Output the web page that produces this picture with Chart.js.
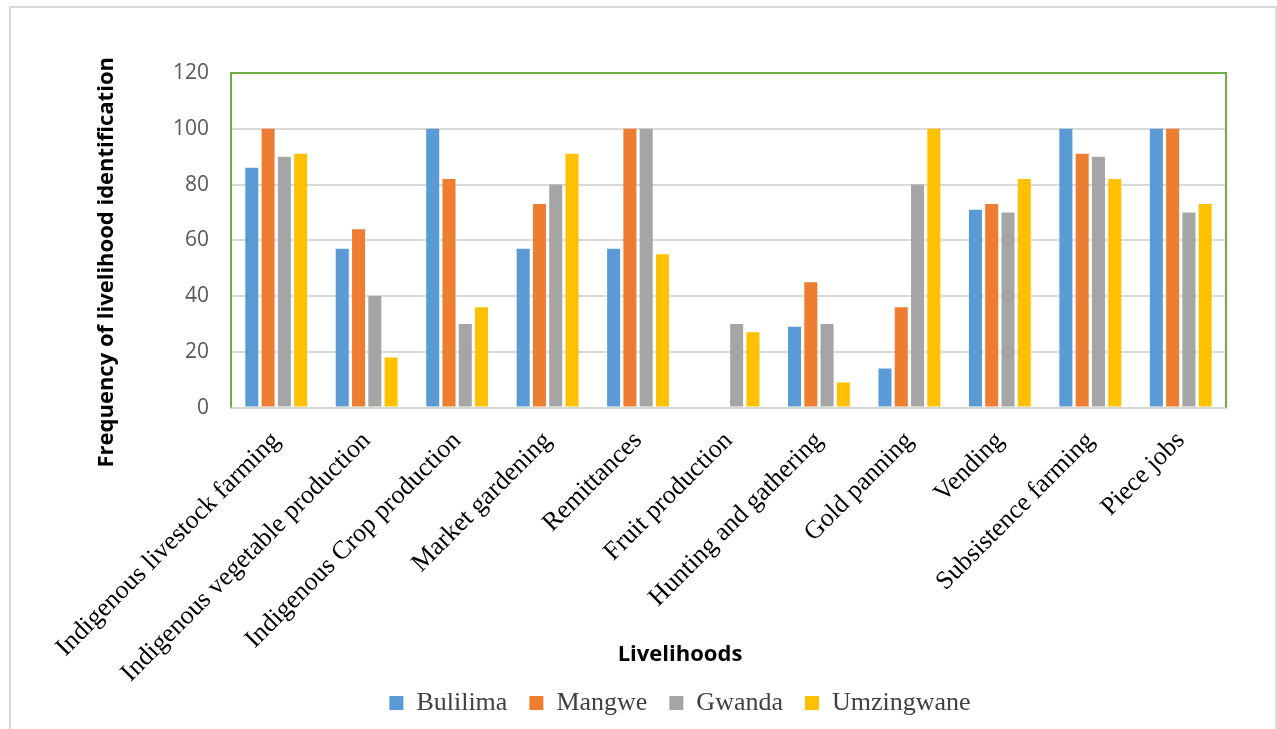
<!DOCTYPE html>
<html>
<head>
<meta charset="utf-8">
<script src="https://cdn.jsdelivr.net/npm/chart.js@4"></script>
<style>
  html, body { margin: 0; padding: 0; background: #fff; overflow: hidden; width: 1277px; height: 729px; }
  #frame { position: absolute; left: 9px; top: 6px; width: 1264px; height: 800px; border: 2px solid #d9d9d9; }
  #wrap { position: absolute; left: 20px; top: 0; width: 1257px; height: 740px; }
</style>
</head>
<body>
<div id="frame"></div>
<div id="wrap"><canvas id="chart"></canvas></div>
<script>
const livelihoods = [
    'Indigenous livestock farming', 'Indigenous vegetable production', 'Indigenous Crop production',
    'Market gardening', 'Remittances', 'Fruit production', 'Hunting and gathering',
    'Gold panning', 'Vending', 'Subsistence farming', 'Piece jobs'
];
const bulilima   = [86, 57, 100, 57, 57, 0, 29, 14, 71, 100, 100];
const mangwe     = [100, 64, 82, 73, 100, 0, 45, 36, 73, 91, 100];
const gwanda     = [90, 40, 30, 80, 100, 30, 30, 80, 70, 90, 70];
const umzingwane = [91, 18, 36, 91, 55, 27, 9, 100, 82, 82, 73];
const yTicks = [0, 20, 40, 60, 80, 100, 120];

const serif = '"Liberation Serif", "Times New Roman", serif';
const sans = '"Open Sans", "Noto Sans", sans-serif';

// green frame round the plot area (top, left, right)
const plotBorder = {
    id: 'plotBorder',
    afterLayout(chart) {
        // let the slanted category labels run below the x box (no clipping)
        chart.scales.x.bottom = chart.height;
        // y title sits a bit lower than the plot centre in the original
        chart.scales.y.bottom += 44;
    },
    beforeDatasetsDraw(chart) {
        const { ctx, chartArea: a } = chart;
        ctx.save();
        ctx.strokeStyle = '#70ad47';
        ctx.lineWidth = 2;
        ctx.beginPath();
        ctx.moveTo(a.left, a.bottom);
        ctx.lineTo(a.left, a.top);
        ctx.lineTo(a.right, a.top);
        ctx.lineTo(a.right, a.bottom);
        ctx.stroke();
        ctx.restore();
    }
};

const series = [
    ['Bulilima', bulilima, '#5b9bd5'],
    ['Mangwe', mangwe, '#ed7d31'],
    ['Gwanda', gwanda, '#a5a5a5'],
    ['Umzingwane', umzingwane, '#ffc000']
];

new Chart(document.getElementById('chart'), {
    type: 'bar',
    data: {
        labels: livelihoods,
        datasets: series.map(([name, values, color]) => ({
            label: name,
            data: values,
            backgroundColor: color,
            barPercentage: 0.8,
            categoryPercentage: 0.72
        }))
    },
    options: {
        responsive: true,
        maintainAspectRatio: false,
        animation: false,
        layout: { padding: { top: 73, left: 70, right: 7, bottom: 14 } },
        plugins: {
            tooltip: { enabled: false },
            title: {
                display: true,
                position: 'bottom',
                weight: 500,
                text: 'Livelihoods',
                color: '#000',
                font: { family: sans, size: 22, weight: 'bold', lineHeight: 1.2 },
                padding: 0
            },
            legend: {
                position: 'bottom',
                labels: {
                    color: '#404040',
                    font: { family: serif, size: 26 },
                    boxWidth: 14,
                    boxHeight: 14,
                    padding: 22
                }
            }
        },
        scales: {
            x: {
                grid: { display: false },
                border: { display: true, color: '#d3d9ce', width: 2 },
                ticks: {
                    color: '#000',
                    font: { family: serif, size: 26 },
                    minRotation: 45,
                    maxRotation: 45,
                    autoSkip: false,
                    padding: 10
                },
                afterFit(scale) {
                    scale.height = 234;
                    scale.paddingLeft = 0;
                    scale.paddingRight = 0;
                }
            },
            y: {
                min: 0,
                max: 120,
                afterBuildTicks(scale) { scale.ticks = yTicks.map(v => ({ value: v })); },
                grid: { color: '#d9d9d9', lineWidth: 2, drawTicks: false },
                border: { display: false },
                ticks: {
                    color: '#595959',
                    font: { family: sans, size: 21 },
                    padding: 22
                },
                title: {
                    display: true,
                    text: 'Frequency of livelihood identification',
                    color: '#000',
                    font: { family: sans, size: 22, weight: 'bold' },
                    padding: 4
                },
                afterFit(scale) { scale.width = 141; }
            },
            // empty right-hand strip, keeps legend and x title centred like the original
            yRight: {
                position: 'right',
                display: true,
                grid: { display: false },
                border: { display: false },
                ticks: { display: false },
                afterFit(scale) { scale.width = 44; }
            }
        }
    },
    plugins: [plotBorder]
});
</script>
</body>
</html>
